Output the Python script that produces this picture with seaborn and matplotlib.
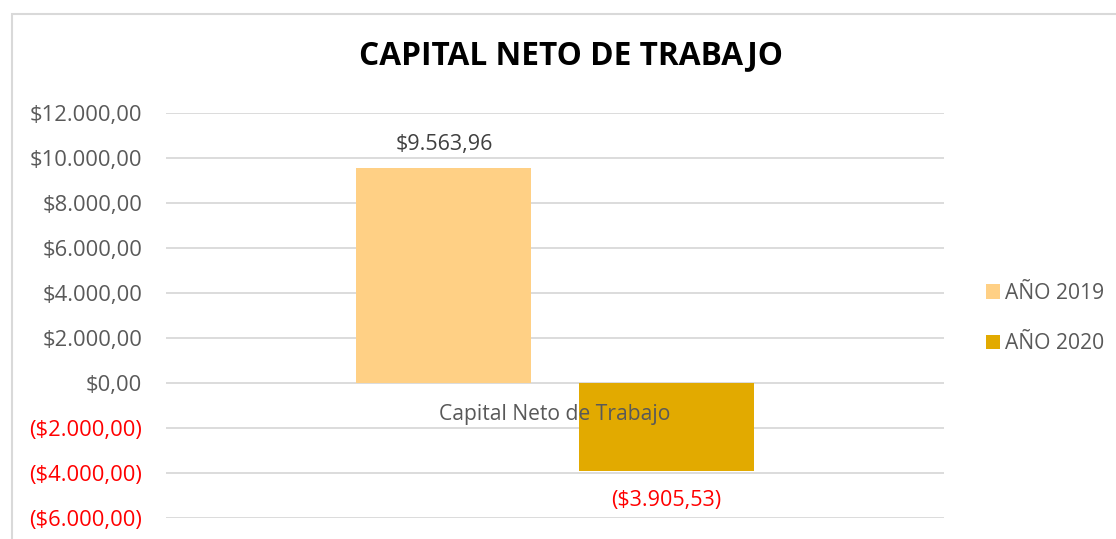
import matplotlib
matplotlib.use("Agg")
import matplotlib.pyplot as plt
import matplotlib.transforms as mtrans
import seaborn as sns
import pandas as pd
from matplotlib.patches import Rectangle

# ---- data ----
category = ["Capital Neto de Trabajo"]
series = ["AÑO 2019", "AÑO 2020"]
values = [9563.96, -3905.53]
value_labels = ["$9.563,96", "($3.905,53)"]
title = "CAPITAL NETO DE TRABAJO"
yticks = [-6000, -4000, -2000, 0, 2000, 4000, 6000, 8000, 10000, 12000]
colors = ["#FFD085", "#E2AA00"]

df = pd.DataFrame({"cat": category * len(series), "serie": series, "valor": values})

sns.set_theme(style="white")
plt.rcParams["font.family"] = ["Open Sans", "DejaVu Sans"]

fig = plt.figure(figsize=(11.16, 5.39), dpi=100)
ax = fig.add_axes([0.1487, 0.039, 0.8459 - 0.1487, 0.7904 - 0.039])

sns.barplot(data=df, x="cat", y="valor", hue="serie", palette=colors,
            width=0.571, gap=0.212, saturation=1, linewidth=0,
            ax=ax, legend=True, zorder=2)

ax.set_ylim(-6000, 12000)
ax.set_xlim(-0.5, 0.5)
ax.set_yticks(yticks)


def fmt(v):
    s = f"{abs(v):,.2f}".replace(",", "X").replace(".", ",").replace("X", ".")
    return f"(${s})" if v < 0 else f"${s}"


ax.set_yticklabels([fmt(v) for v in yticks])
for lab, v in zip(ax.get_yticklabels(), yticks):
    lab.set_color("#FF0000" if v < 0 else "#595959")
ax.tick_params(axis="y", length=0, pad=17, labelsize=15.8)
ax.set_xticks([])
ax.set_xlabel("")
ax.set_ylabel("")
for s in ax.spines.values():
    s.set_visible(False)
ax.grid(axis="y", color="#D9D9D9", linewidth=1.3, zorder=0)
ax.set_axisbelow(True)

# data labels
for cont, lab, v in zip(ax.containers, value_labels, values):
    ax.bar_label(cont, labels=[lab], padding=9 if v >= 0 else 14, fontsize=15.5,
                 color="#FF0000" if v < 0 else "#404040")

# category label just below the zero line
ax.text(0, 0, category[0], ha="center", va="top", fontsize=15.2, color="#595959",
        transform=ax.transData + mtrans.ScaledTranslation(0, -15 / 72, fig.dpi_scale_trans),
        zorder=10)

leg = ax.legend(loc="center left", bbox_to_anchor=(1.03, 0.492), frameon=False,
                fontsize=15.2, handlelength=0.65, handleheight=0.65, handletextpad=0.25,
                labelspacing=1.4, labelcolor="#595959")

fig.suptitle(title, x=0.512, y=0.927, fontsize=22.8, fontweight="bold", color="black")

fig.patches.append(Rectangle((12 / 1116, -0.2), 1.2, 1.2 - 14 / 539,
                             transform=fig.transFigure, fill=False,
                             edgecolor="#D9D9D9", linewidth=1.5))

fig.savefig("out.png", dpi=100, facecolor="white")
